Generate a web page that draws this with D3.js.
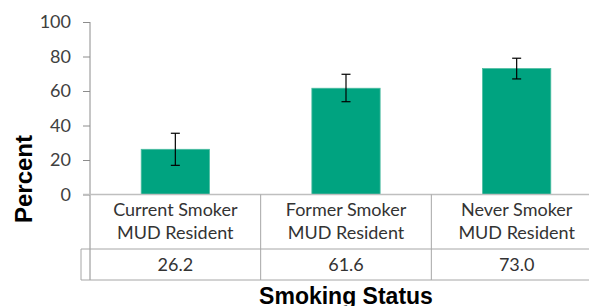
<!DOCTYPE html>
<html>
<head>
<meta charset="utf-8">
<script src="https://cdn.jsdelivr.net/npm/d3@7"></script>
<style>
  body { margin: 0; background: #fff; }
  svg { display: block; }
</style>
</head>
<body>
<div id="chart"></div>
<script>
// donnees
var categories = ["Current Smoker|MUD Resident", "Former Smoker|MUD Resident", "Never Smoker|MUD Resident"];
var valeurs = [26.2, 61.6, 73.0];
var erreurBas = [16.9, 53.8, 67.0];
var erreurHaut = [35.5, 69.7, 79.0];
var ticksY = [0, 20, 40, 60, 80, 100];

var largeur = 589, hauteur = 306;
var plot = {"left": 90, "right": 602, "top": 22, "bottom": 194.5};
var table = {"row1": 249, "row2": 280, "left": 81};

var svg = d3.select("#chart")
    .append("svg")
    .attr("width", largeur)
    .attr("height", hauteur);

var police = "Lato, 'Open Sans', sans-serif";
var couleurBarre = "#00a380";

var x = d3.scaleBand()
    .domain(categories)
    .range([plot.left, plot.right])
    .paddingInner(0.6)
    .paddingOuter(0.3);

var cellule = d3.scaleBand()
    .domain(categories)
    .range([plot.left, plot.right])
    .padding(0);

var y = d3.scaleLinear()
    .domain([0, 100])
    .range([plot.bottom, plot.top]);

// axe Y
var axeY = svg.append("g")
    .attr("transform", "translate(" + plot.left + ",0)")
    .call(d3.axisLeft(y).tickValues(ticksY).tickSize(7).tickPadding(12));

axeY.select(".domain").attr("stroke", "#8c8c8c").attr("d", "M0," + y(100) + "V" + table.row2);
axeY.selectAll(".tick line").attr("stroke", "#8c8c8c");
axeY.selectAll(".tick text")
    .attr("fill", "#404040")
    .style("font-family", police)
    .style("font-size", "18px");

// barres
svg.append("g").selectAll("rect")
    .data(valeurs)
    .enter()
    .append("rect")
    .attr("x", function(d, i){ return x(categories[i]); })
    .attr("y", function(d){ return y(d); })
    .attr("width", x.bandwidth())
    .attr("height", function(d){ return y(0) - y(d); })
    .attr("fill", couleurBarre)
    .attr("stroke", "#4cbca0")
    .attr("stroke-width", 0.8);

// barres d'erreur
var erreurs = svg.append("g").selectAll("g")
    .data(valeurs)
    .enter()
    .append("g")
    .attr("stroke", "#000")
    .attr("stroke-width", 1.2);

erreurs.append("line")
    .attr("x1", function(d, i){ return x(categories[i]) + x.bandwidth() / 2; })
    .attr("x2", function(d, i){ return x(categories[i]) + x.bandwidth() / 2; })
    .attr("y1", function(d, i){ return y(erreurBas[i]); })
    .attr("y2", function(d, i){ return y(erreurHaut[i]); });

[erreurBas, erreurHaut].forEach(function(bornes){
    erreurs.append("line")
        .attr("x1", function(d, i){ return x(categories[i]) + x.bandwidth() / 2 - 4.5; })
        .attr("x2", function(d, i){ return x(categories[i]) + x.bandwidth() / 2 + 4.5; })
        .attr("y1", function(d, i){ return y(bornes[i]); })
        .attr("y2", function(d, i){ return y(bornes[i]); });
});

// axe X (ligne du zero)
svg.append("line")
    .attr("x1", plot.left - 7).attr("x2", largeur)
    .attr("y1", y(0)).attr("y2", y(0))
    .attr("stroke", "#bfbfbf")
    .attr("stroke-width", 1.5);

// tableau de donnees sous le graphique
var grille = svg.append("g").attr("stroke", "#a6a6a6").attr("stroke-width", 1);

grille.selectAll(".sep")
    .data(categories.slice(1))
    .enter()
    .append("line")
    .attr("x1", function(d){ return cellule(d); })
    .attr("x2", function(d){ return cellule(d); })
    .attr("y1", y(0))
    .attr("y2", table.row2);

grille.append("line")
    .attr("x1", table.left).attr("x2", largeur)
    .attr("y1", table.row1).attr("y2", table.row1);
grille.append("line")
    .attr("x1", table.left).attr("x2", largeur)
    .attr("y1", table.row2).attr("y2", table.row2);
grille.append("line")
    .attr("x1", table.left).attr("x2", table.left)
    .attr("y1", table.row1).attr("y2", table.row2);

var etiquettes = svg.append("g").selectAll("text")
    .data(categories)
    .enter()
    .append("text")
    .attr("text-anchor", "middle")
    .attr("fill", "#333")
    .style("font-family", police)
    .style("font-size", "18px");

etiquettes.each(function(d){
    var lignes = d.split("|");
    var t = d3.select(this);
    lignes.forEach(function(l, j){
        t.append("tspan")
            .attr("x", cellule(d) + cellule.bandwidth() / 2)
            .attr("y", 216 + j * 22.5)
            .text(l);
    });
});

svg.append("g").selectAll("text")
    .data(valeurs)
    .enter()
    .append("text")
    .attr("x", function(d, i){ return cellule(categories[i]) + cellule.bandwidth() / 2; })
    .attr("y", 271)
    .attr("text-anchor", "middle")
    .attr("fill", "#333")
    .style("font-family", police)
    .style("font-size", "18px")
    .text(function(d){ return d.toFixed(1); });

// titres des axes
svg.append("text")
    .attr("transform", "translate(32,179) rotate(-90)")
    .attr("text-anchor", "middle")
    .style("font-family", "'Liberation Sans', Arial, sans-serif")
    .style("font-weight", "bold")
    .style("font-size", "24px")
    .attr("fill", "#000")
    .text("Percent");

svg.append("text")
    .attr("x", cellule(categories[1]) + cellule.bandwidth() / 2)
    .attr("y", 304)
    .attr("text-anchor", "middle")
    .style("font-family", "'Liberation Sans', Arial, sans-serif")
    .style("font-weight", "bold")
    .style("font-size", "23px")
    .attr("fill", "#000")
    .text("Smoking Status");
</script>
</body>
</html>
